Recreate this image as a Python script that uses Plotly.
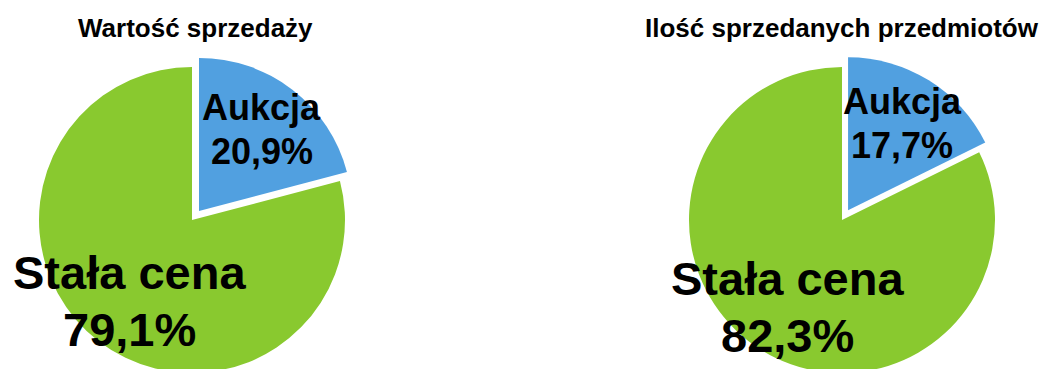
import math
import plotly.graph_objects as go

# ---- data -------------------------------------------------------------
titles = ["Wartość sprzedaży", "Ilość sprzedanych przedmiotów"]
categories = ["Aukcja", "Stała cena"]
sales_value_pct = [20.9, 79.1]      # Wartość sprzedaży
items_sold_pct = [17.7, 82.3]       # Ilość sprzedanych przedmiotów
series = [sales_value_pct, items_sold_pct]

# ---- styling / layout -------------------------------------------------
W, H = 1050, 400
RADIUS = 153                      # pie radius in px
PULL = 0.075                      # pulled-out "Aukcja" slice
CENTERS = [(192, 220), (842, 220)]
TITLE_X = [195, 842]
TITLE_Y = 28
COLORS = ["#51A0E0", "#89C92F"]
LABEL_SIZES = [36, 47]
TITLE_SIZE = 26
FONT = "Liberation Sans, Arial, Helvetica, sans-serif"
LABEL_RADIUS = 0.67               # label distance from slice centre, in radii
LINE_GAP = 1.22                   # line spacing in font sizes

fig = go.Figure()
annotations = []


def to_paper(px, py):
    return px / W, 1 - py / H


for k, (vals, (cx, cy)) in enumerate(zip(series, CENTERS)):
    pulls = [PULL, 0]
    half = RADIUS * (1 + PULL)
    fig.add_trace(go.Pie(
        labels=categories,
        values=vals,
        sort=False,
        direction="clockwise",
        rotation=0,
        pull=pulls,
        marker=dict(colors=COLORS, line=dict(width=0)),
        textinfo="none",
        hoverinfo="skip",
        showlegend=False,
        domain=dict(
            x=[(cx - half) / W, (cx + half) / W],
            y=[1 - (cy + half) / H, 1 - (cy - half) / H],
        ),
    ))

    # slice labels: placed along each slice's middle angle
    total = sum(vals)
    start = 0.0
    for i, (name, v) in enumerate(zip(categories, vals)):
        span = v / total * 360
        mid = math.radians(start + span / 2)
        start += span
        sx, sy = math.sin(mid), -math.cos(mid)
        ox = cx + pulls[i] * RADIUS * sx
        oy = cy + pulls[i] * RADIUS * sy
        lx = ox + LABEL_RADIUS * RADIUS * sx
        ly = oy + LABEL_RADIUS * RADIUS * sy
        size = LABEL_SIZES[i]
        pct = f"{v:.1f}".replace(".", ",") + "%"
        for line, dy in ((name, -LINE_GAP * size / 2), (pct, LINE_GAP * size / 2)):
            x, y = to_paper(lx, ly + dy)
            annotations.append(dict(
                text=line, x=x, y=y, xref="paper", yref="paper",
                xanchor="center", yanchor="middle", showarrow=False,
                font=dict(family=FONT, size=size, color="#000000", weight="bold"),
            ))

    tx, ty = to_paper(TITLE_X[k], TITLE_Y)
    annotations.append(dict(
        text=titles[k], x=tx, y=ty, xref="paper", yref="paper",
        xanchor="center", yanchor="middle", showarrow=False,
        font=dict(family=FONT, size=TITLE_SIZE, color="#000000", weight="bold"),
    ))

fig.update_layout(
    width=W,
    height=H,
    margin=dict(l=0, r=0, t=0, b=0),
    paper_bgcolor="#FFFFFF",
    plot_bgcolor="#FFFFFF",
    annotations=annotations,
    showlegend=False,
)

fig.write_html(
    "out.html",
    config={"displayModeBar": False, "responsive": False},
    post_script=(
        "document.documentElement.style.overflow='hidden';"
        "document.body.style.overflow='hidden';"
        "document.body.style.margin='0';"
    ),
)
